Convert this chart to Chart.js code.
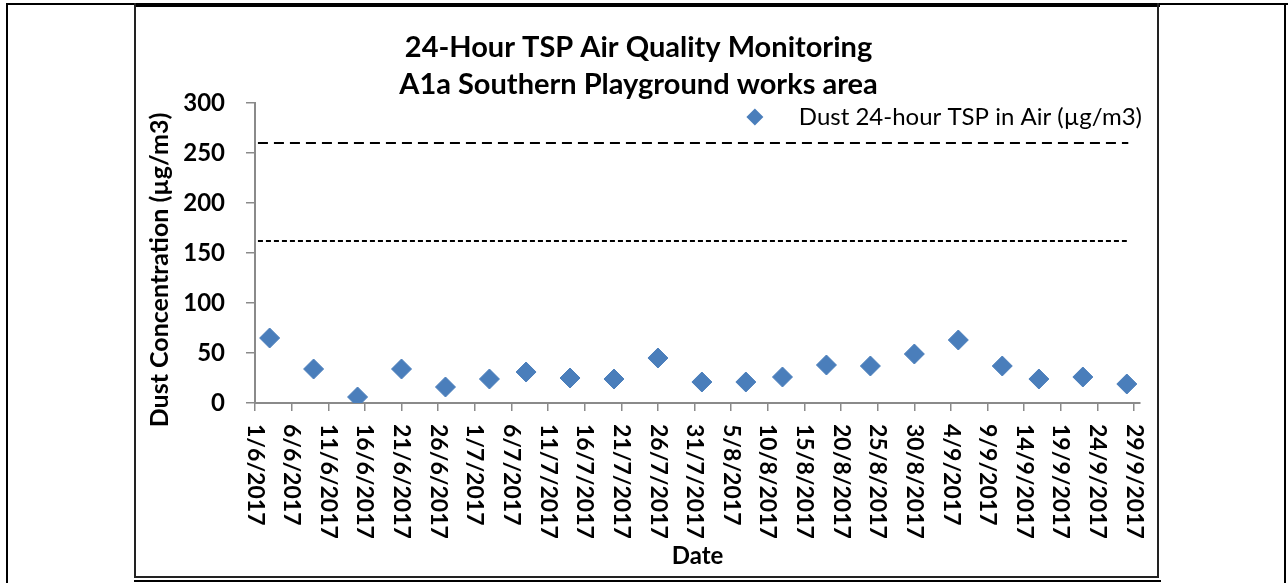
<!DOCTYPE html>
<html>
<head>
<meta charset="utf-8">
<script src="https://cdn.jsdelivr.net/npm/chart.js@4.4.1/dist/chart.umd.min.js"></script>
<style>
  html, body { margin: 0; padding: 0; background: #fff; }
  body { width: 1288px; height: 583px; position: relative; overflow: hidden; }
  .ln { position: absolute; background: #000; }
  #grafica { position: absolute; left: 137px; top: 8px; }
</style>
</head>
<body>
<!-- marcos del documento -->
<div class="ln" style="left:6px; top:3px; width:1282px; height:2px;"></div>
<div class="ln" style="left:6px; top:3px; width:2px; height:580px;"></div>
<div class="ln" style="left:1284px; top:3px; width:2px; height:580px;"></div>
<div class="ln" style="left:134px; top:3px; width:1026px; height:4px;"></div>
<div class="ln" style="left:134px; top:3px; width:2px; height:575px; background:#222;"></div>
<div class="ln" style="left:1157px; top:3px; width:2px; height:575px; background:#222;"></div>
<div class="ln" style="left:134px; top:576px; width:1025px; height:2px; background:#222;"></div>
<div class="ln" style="left:134px; top:580px; width:1027px; height:2px;"></div>

<canvas id="grafica" width="1019" height="566"></canvas>

<script>
// Fechas de muestreo y concentraciones
const fechas = ["3/6/2017", "9/6/2017", "15/6/2017", "21/6/2017", "27/6/2017", "3/7/2017", "8/7/2017",
  "14/7/2017", "20/7/2017", "26/7/2017", "1/8/2017", "7/8/2017", "12/8/2017", "18/8/2017",
  "24/8/2017", "30/8/2017", "5/9/2017", "11/9/2017", "16/9/2017", "22/9/2017", "28/9/2017"];
const polvo = [65, 34, 6, 34, 16, 24, 31, 25, 24, 45, 21, 21, 26, 38, 37, 49, 63, 37, 24, 26, 19];

// Niveles limite (lineas punteadas)
const nivelLimite = 260;
const nivelAccion = 162;
const limiteDesde = "1/6/2017";
const limiteHasta = "28/9/2017";

// Etiquetas del eje X (cada 5 dias)
const etiquetasX = ["1/6/2017", "6/6/2017", "11/6/2017", "16/6/2017", "21/6/2017", "26/6/2017",
  "1/7/2017", "6/7/2017", "11/7/2017", "16/7/2017", "21/7/2017", "26/7/2017", "31/7/2017",
  "5/8/2017", "10/8/2017", "15/8/2017", "20/8/2017", "25/8/2017", "30/8/2017", "4/9/2017",
  "9/9/2017", "14/9/2017", "19/9/2017", "24/9/2017", "29/9/2017"];
const pasoX = 5;
const ticksY = [0, 50, 100, 150, 200, 250, 300];

const tituloY = 'Dust Concentration (µg/m3)';
const leyenda = 'Dust 24-hour TSP in Air (µg/m3)';

// dias desde el 1/6/2017
const inicio = Date.UTC(2017, 5, 1);
function dia(f) {
  const [d, m, y] = f.split("/").map(Number);
  return Math.round((Date.UTC(y, m - 1, d) - inicio) / 86400000);
}

const FUENTE = "Lato, 'Liberation Sans', sans-serif";
const azul = '#4A7EBB';
const gris = '#8a8a8a';

function rombo(ctx, x, y, r) {
  ctx.beginPath();
  ctx.moveTo(x, y - r);
  ctx.lineTo(x + r, y);
  ctx.lineTo(x, y + r);
  ctx.lineTo(x - r, y);
  ctx.closePath();
  ctx.fill();
}

// Fechas giradas (arriba hacia abajo), titulo del eje Y y leyenda dentro del area
const extras = {
  id: 'extras',
  afterDraw(chart) {
    const ctx = chart.ctx;
    const x = chart.scales.x;
    const area = chart.chartArea;
    ctx.save();
    ctx.fillStyle = '#000';

    ctx.font = "bold 23px " + FUENTE;
    ctx.textAlign = 'left';
    ctx.textBaseline = 'middle';
    etiquetasX.forEach((t, i) => {
      const px = x.getPixelForValue(i * pasoX);
      ctx.save();
      ctx.translate(px, x.top + 21);
      ctx.rotate(Math.PI / 2);
      ctx.fillText(t, 0, 0);
      ctx.restore();
    });

    // titulo eje Y
    ctx.save();
    ctx.font = "bold 25px " + FUENTE;
    ctx.textAlign = 'center';
    ctx.translate(23, 262);
    ctx.rotate(-Math.PI / 2);
    ctx.fillText(tituloY, 0, 0);
    ctx.restore();

    // leyenda
    ctx.font = "24px " + FUENTE;
    ctx.textAlign = 'right';
    const tx = area.right + 2;
    const ty = area.top + 14;
    ctx.fillText(leyenda, tx, ty);
    const ancho = ctx.measureText(leyenda).width;
    ctx.fillStyle = azul;
    rombo(ctx, tx - ancho - 44, ty, 8.5);
    ctx.restore();
  }
};

const $grafica = document.querySelector("#grafica");
new Chart($grafica, {
  type: 'scatter',
  data: {
    datasets: [
      {
        label: leyenda,
        data: fechas.map((f, i) => ({ x: dia(f), y: polvo[i] })),
        pointStyle: 'rectRot',
        pointRadius: 10,
        pointHoverRadius: 10,
        backgroundColor: azul,
        borderColor: azul,
        borderWidth: 1,
      },
      {
        label: 'limite',
        type: 'line',
        data: [{ x: dia(limiteDesde) + 0.4, y: nivelLimite }, { x: dia(limiteHasta) + 0.2, y: nivelLimite }],
        borderColor: '#000',
        borderWidth: 2,
        borderDash: [10, 6],
        pointRadius: 0,
        fill: false,
      },
      {
        label: 'accion',
        type: 'line',
        data: [{ x: dia(limiteDesde) + 0.4, y: nivelAccion }, { x: dia(limiteHasta), y: nivelAccion }],
        borderColor: '#000',
        borderWidth: 2,
        borderDash: [5, 3],
        pointRadius: 0,
        fill: false,
      },
    ]
  },
  options: {
    responsive: false,
    animation: false,
    layout: { padding: { left: 0, right: 16, top: 0, bottom: 0 } },
    plugins: {
      tooltip: { enabled: false },
      legend: { display: false },
      title: {
        display: true,
        text: ['24-Hour TSP Air Quality Monitoring', 'A1a Southern Playground works area'],
        color: '#000',
        font: { family: FUENTE, size: 29, weight: 'bold', lineHeight: 37 / 29 },
        padding: { top: 21, bottom: 0 },
      }
    },
    scales: {
      x: {
        type: 'linear',
        min: 0,
        max: 120.8,
        afterFit: (s) => { s.height = 171; },
        border: { color: gris, width: 2 },
        grid: { drawOnChartArea: false, drawTicks: true, tickLength: 8, color: gris, lineWidth: 1.5 },
        ticks: { stepSize: pasoX, includeBounds: false, display: false },
        title: {
          display: true,
          text: 'Date',
          color: '#000',
          font: { family: FUENTE, size: 24, weight: 'bold' },
          padding: { top: 0, bottom: 3 },
        }
      },
      y: {
        min: ticksY[0],
        max: ticksY[ticksY.length - 1],
        afterFit: (s) => { s.width = 118; },
        border: { color: gris, width: 2 },
        grid: { drawOnChartArea: false, drawTicks: true, tickLength: 9, color: gris, lineWidth: 1.5 },
        ticks: {
          stepSize: 50,
          padding: 21,
          color: '#000',
          font: { family: FUENTE, size: 24, weight: 'bold' },
        },
        title: { display: false }
      }
    }
  },
  plugins: [extras]
});
</script>
</body>
</html>
